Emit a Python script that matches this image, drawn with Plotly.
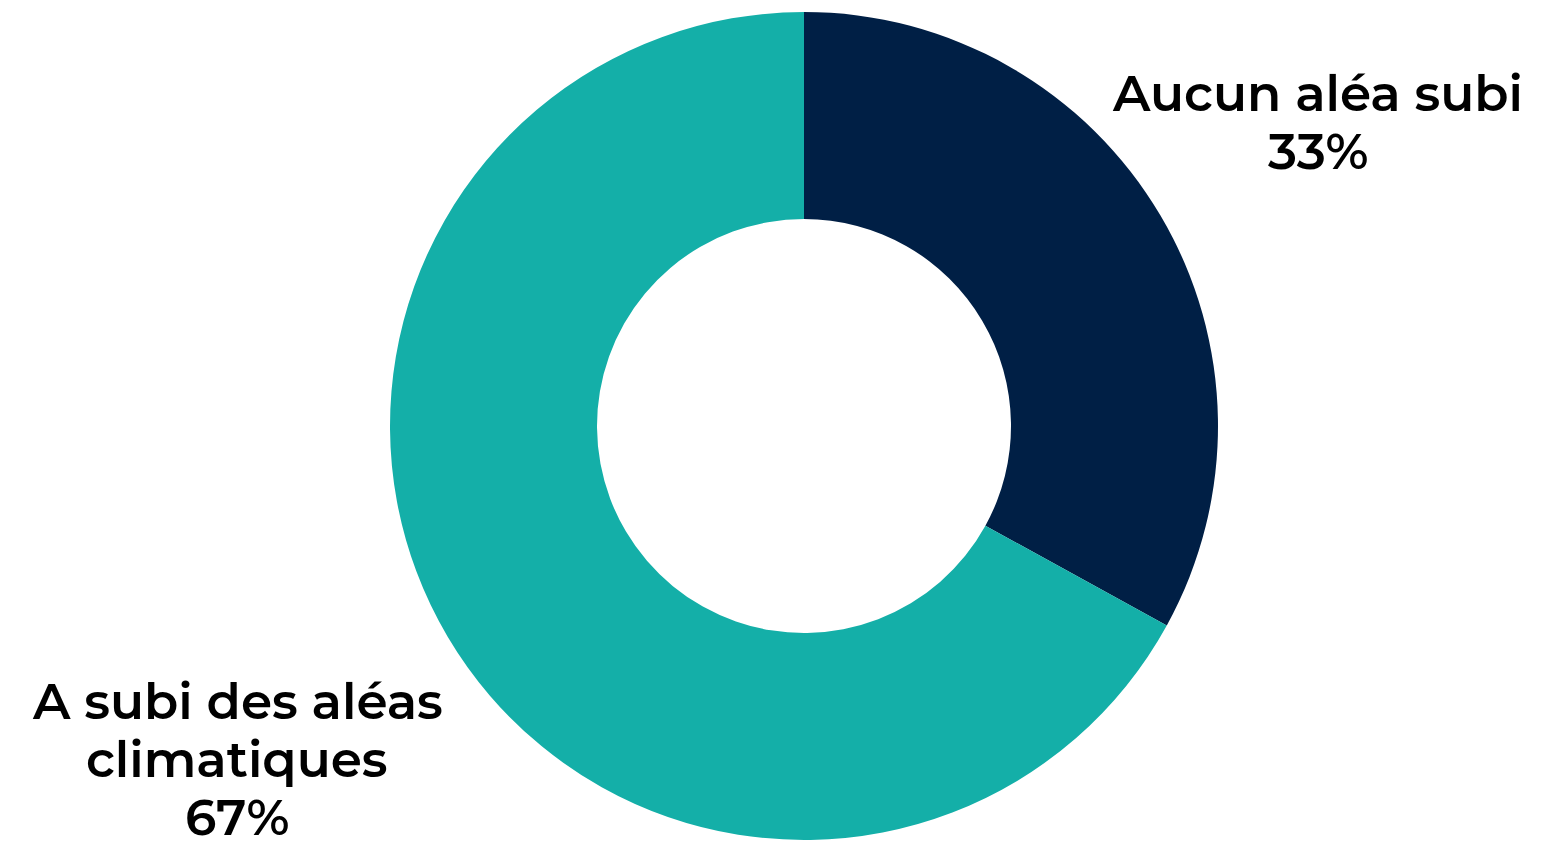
import plotly.graph_objects as go

labels = ["Aucun aléa subi", "A subi des aléas climatiques"]
label_lines = [["Aucun aléa subi"], ["A subi des aléas", "climatiques"]]
values = [33, 67]
colors = ["#001F45", "#14AFA8"]

fig = go.Figure(go.Pie(
    labels=labels,
    values=values,
    hole=0.5,
    sort=False,
    direction="clockwise",
    rotation=0,
    marker=dict(colors=colors, line=dict(width=0)),
    textinfo="none",
    hoverinfo="label+percent",
    showlegend=False,
))

font = dict(family="Montserrat, 'Open Sans', sans-serif", size=50, color="#000000", weight=600)
# label anchor (paper x, paper y of first line) and line spacing in paper units
label_pos = [(0.838, 0.902), (0.127, 0.167)]
line_step = 0.0700
annotations = []
for lines, v, (x, y) in zip(label_lines, values, label_pos):
    for i, line in enumerate(lines + [f"{v}%"]):
        annotations.append(dict(
            text=line, x=x, y=y - i * line_step, xref="paper", yref="paper",
            xanchor="center", yanchor="middle", showarrow=False, font=font, align="center",
        ))

fig.update_layout(
    width=1564, height=846,
    margin=dict(l=36, r=8, t=4, b=14),
    paper_bgcolor="white", plot_bgcolor="white",
    annotations=annotations,
)
fig.write_html("out.html")
